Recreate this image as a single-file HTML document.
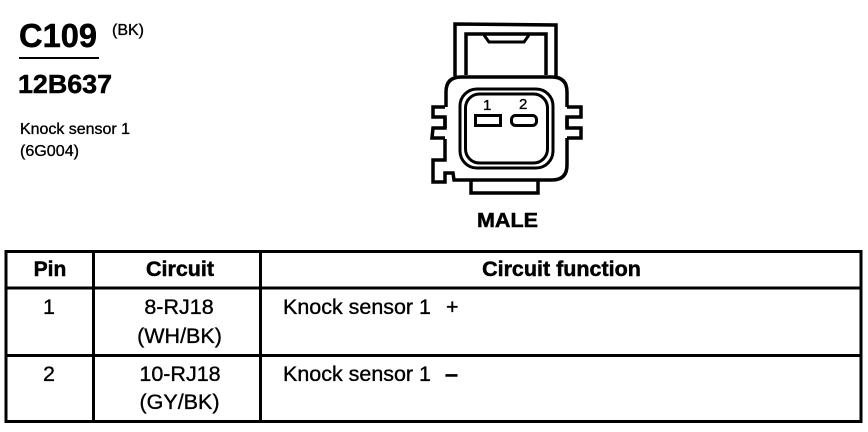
<!DOCTYPE html>
<html>
<head>
<meta charset="utf-8">
<style>
html,body{margin:0;padding:0;background:#fff;width:868px;height:432px;overflow:hidden}
svg{display:block}
text{font-family:"Liberation Sans",Arial,sans-serif;fill:#000;stroke:#000;stroke-width:.35}
.b{font-weight:bold;stroke-width:.5}
</style>
</head>
<body>
<svg width="868" height="432" viewBox="0 0 868 432" xmlns="http://www.w3.org/2000/svg">
<rect width="868" height="432" fill="#fff"/>
<text class="b" x="19" y="47" font-size="33" textLength="78" lengthAdjust="spacingAndGlyphs">C109</text>
<rect x="19" y="57" width="80" height="2"/>
<text x="112" y="35" font-size="15.500" textLength="32" lengthAdjust="spacingAndGlyphs">(BK)</text>
<text class="b" x="18" y="93" font-size="25.500" textLength="94" lengthAdjust="spacingAndGlyphs">12B637</text>
<text x="20" y="134" font-size="16" textLength="110" lengthAdjust="spacingAndGlyphs">Knock sensor 1</text>
<text x="20" y="156" font-size="16" textLength="59" lengthAdjust="spacingAndGlyphs">(6G004)</text>

<g fill="none" stroke="#000" stroke-width="3.500">
<path d="M455 76V24L556 25V77"/>
<path d="M466 75V34H546V75"/>
<path d="M484 35L489 42H524L529 35" stroke-width="3"/>
<path d="M446 107V92Q446 77 461 77H552Q567 77 567 92V107M567 117V128M567 138V165Q567 180 552 180H454L453 173H445V182H433V160H445V139M445 128V118"/>
<path d="M445 107H433V117H445V128H433L432 138H445"/>
<path d="M567 107H581V117H567V128H581V138H567"/>
<path d="M471 181V193H538V181"/>
<rect x="460" y="89" width="93" height="79" rx="17" stroke-width="3"/>
<rect x="465.500" y="94" width="82" height="69" rx="14" stroke-width="3"/>
<rect x="475.500" y="115.500" width="25" height="10" stroke-width="3"/>
<rect x="511.500" y="115.500" width="25" height="10" rx="4" stroke-width="3"/>
</g>
<text x="483" y="110" font-size="15">1</text>
<text x="519" y="109" font-size="15">2</text>
<text class="b" x="477" y="227" font-size="20.500" textLength="61" lengthAdjust="spacingAndGlyphs">MALE</text>

<g fill="none" stroke="#000" stroke-width="3">
<rect x="6" y="251.500" width="855" height="170"/>
<path d="M6 288H861M6 355.500H861M93.500 251V422M260.500 251V422"/>
</g>
<text class="b" x="50" y="276" font-size="21" text-anchor="middle">Pin</text>
<text class="b" x="180" y="276" font-size="21.500" text-anchor="middle">Circuit</text>
<text class="b" x="561.500" y="276" font-size="21.500" text-anchor="middle">Circuit function</text>
<g font-size="21.500">
<text x="49" y="314" text-anchor="middle">1</text>
<text x="179" y="314" text-anchor="middle">8-RJ18</text>
<text x="179.500" y="343" text-anchor="middle">(WH/BK)</text>
<text x="283" y="314" textLength="148" lengthAdjust="spacingAndGlyphs">Knock sensor 1</text>
<text x="446" y="314">+</text>
<text x="49" y="381" text-anchor="middle">2</text>
<text x="180" y="381" text-anchor="middle">10-RJ18</text>
<text x="179.500" y="409" text-anchor="middle">(GY/BK)</text>
<text x="283" y="381" textLength="148" lengthAdjust="spacingAndGlyphs">Knock sensor 1</text>
<text class="b" x="445" y="381" textLength="13" lengthAdjust="spacingAndGlyphs">–</text>
</g>
</svg>
</body>
</html>
